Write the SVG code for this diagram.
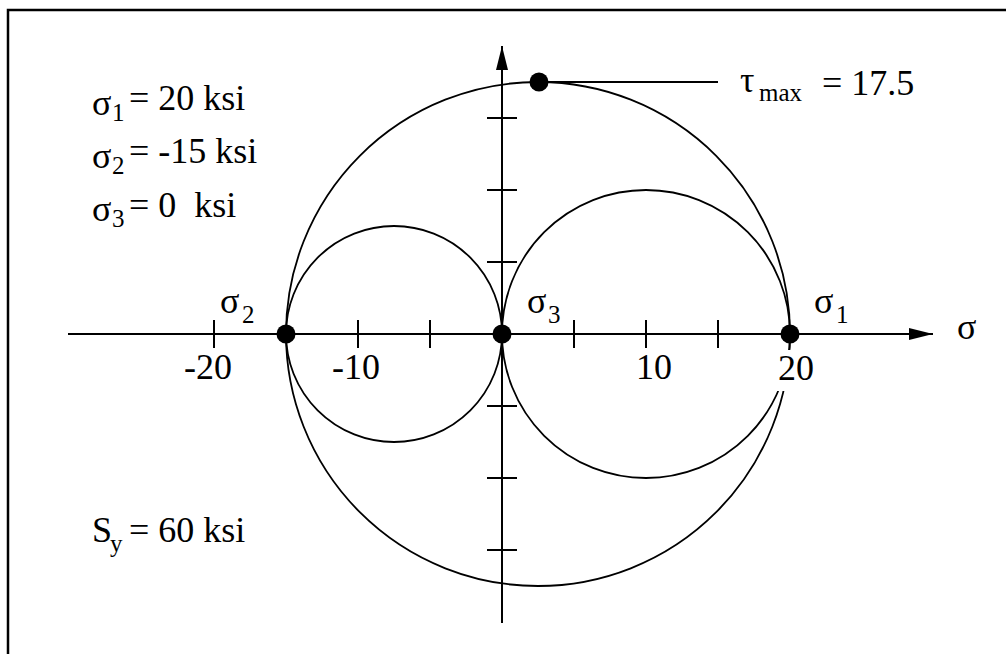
<svg xmlns="http://www.w3.org/2000/svg" width="1006" height="654" viewBox="0 0 1006 654">
<style>
  text { font-family: 'Liberation Serif', 'DejaVu Serif', 'Times New Roman', Times, serif; fill: #000; }
  .t { font-size: 36px; }
  .s { font-size: 25px; }
  .ax { stroke: #000; stroke-width: 2; fill: none; }
  .c { stroke: #000; stroke-width: 1.8; fill: none; }
  .dot { fill: #000; }
</style>
<defs>
  <marker id="arr" viewBox="0 0 24 12" refX="24" refY="6" markerWidth="24" markerHeight="12" markerUnits="userSpaceOnUse" orient="auto">
    <path d="M0,0 L24,6 L0,12 Z" fill="#000"/>
  </marker>
</defs>
<rect width="1006" height="654" fill="#fff"/>
<path d="M8,654 V10 H1006" stroke="#000" stroke-width="2.5" fill="none"/>

<g id="circles">
  <circle class="c" cx="538" cy="334" r="252"/>
  <circle class="c" cx="394" cy="334" r="108"/>
  <circle class="c" cx="646" cy="334" r="144"/>
</g>

<g id="connectors">
  <line class="ax" x1="68" y1="334" x2="933" y2="334" marker-end="url(#arr)"/>
  <line class="ax" x1="502" y1="623" x2="502" y2="46" marker-end="url(#arr)"/>
  <path class="ax" d="M214,320 V348 M358,320 V348 M430,320 V348 M574,320 V348 M646,320 V348 M718,320 V348"/>
  <path class="ax" d="M487,118 H517 M487,190 H517 M487,262 H517 M487,406 H517 M487,478 H517 M487,550 H517"/>
  <line x1="539" y1="82" x2="718" y2="82" stroke="#000" stroke-width="2"/>
</g>

<rect x="770" y="350" width="46" height="41" fill="#fff"/>

<g id="points">
  <circle class="dot" cx="286" cy="334" r="9.5"/>
  <circle class="dot" cx="502" cy="334" r="9.5"/>
  <circle class="dot" cx="790" cy="334" r="9.5"/>
  <circle class="dot" cx="539" cy="82" r="9.5"/>
</g>

<g id="axis-labels">
  <text class="t" x="184" y="379" font-family="Liberation Serif, DejaVu Serif, serif">-20</text>
  <text class="t" x="332" y="379" font-family="Liberation Serif, DejaVu Serif, serif">-10</text>
  <text class="t" x="636" y="379" font-family="Liberation Serif, DejaVu Serif, serif">10</text>
  <text class="t" x="778" y="380" font-family="Liberation Serif, DejaVu Serif, serif">20</text>
  <text class="t" x="957" y="339">σ</text>
</g>

<g id="point-labels">
  <text class="t" x="220" y="313">σ</text><text class="s" x="242" y="323">2</text>
  <text class="t" x="527" y="313">σ</text><text class="s" x="548" y="323">3</text>
  <text class="t" x="814" y="313">σ</text><text class="s" x="836" y="323">1</text>
</g>

<g id="tau-label">
  <text class="t" x="740" y="92">τ</text>
  <text class="s" x="759" y="101">max</text>
  <text class="t" x="822" y="95">= 17.5</text>
</g>

<g id="given">
  <text class="t" x="92" y="115">σ</text><text class="s" x="112" y="121">1</text><text class="t" x="129" y="110">= 20 ksi</text>
  <text class="t" x="92" y="168">σ</text><text class="s" x="112" y="174">2</text><text class="t" x="129" y="163">= -15 ksi</text>
  <text class="t" x="92" y="221">σ</text><text class="s" x="112" y="227">3</text><text class="t" x="129" y="217" xml:space="preserve">= 0  ksi</text>
  <text class="t" x="92" y="542">S</text><text class="s" x="110" y="552">y</text><text class="t" x="129" y="542">= 60 ksi</text>
</g>
</svg>
